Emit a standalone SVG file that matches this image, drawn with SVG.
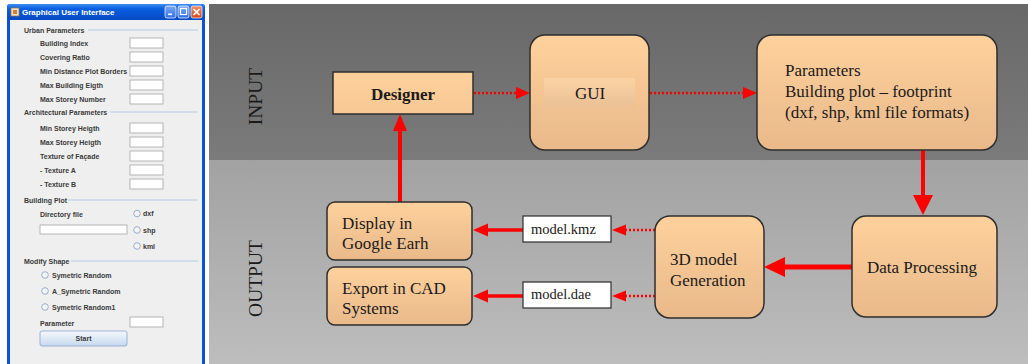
<svg xmlns="http://www.w3.org/2000/svg" width="1028" height="364" viewBox="0 0 1028 364">
<defs>
<linearGradient id="topBand" x1="0" y1="0" x2="0" y2="1"><stop offset="0" stop-color="#686868"/><stop offset="1" stop-color="#7b7b7b"/></linearGradient>
<linearGradient id="botBand" x1="0" y1="0" x2="0" y2="1"><stop offset="0" stop-color="#a2a2a2"/><stop offset="1" stop-color="#bdbdbd"/></linearGradient>
<linearGradient id="boxFill" x1="0" y1="0" x2="0" y2="1"><stop offset="0" stop-color="#fed19c"/><stop offset="1" stop-color="#e9b98a"/></linearGradient>
<linearGradient id="flatFill" x1="0" y1="0" x2="0" y2="1"><stop offset="0" stop-color="#fed19c"/><stop offset="1" stop-color="#f7c894"/></linearGradient>
<linearGradient id="guiHi" x1="0" y1="0" x2="0" y2="1"><stop offset="0" stop-color="#fbd4a6" stop-opacity="0.9"/><stop offset="1" stop-color="#e9c094" stop-opacity="0.9"/></linearGradient>
<linearGradient id="titleBar" x1="0" y1="0" x2="0" y2="1"><stop offset="0" stop-color="#3d8df5"/><stop offset="0.3" stop-color="#0a5fe0"/><stop offset="1" stop-color="#0749c4"/></linearGradient>
<linearGradient id="btnBlue" x1="0" y1="0" x2="0" y2="1"><stop offset="0" stop-color="#7eaaf8"/><stop offset="1" stop-color="#2f6fe6"/></linearGradient>
<linearGradient id="btnRed" x1="0" y1="0" x2="0" y2="1"><stop offset="0" stop-color="#f0906a"/><stop offset="1" stop-color="#d9461e"/></linearGradient>
<linearGradient id="startBtn" x1="0" y1="0" x2="0" y2="1"><stop offset="0" stop-color="#f6f9fd"/><stop offset="1" stop-color="#c6d8ee"/></linearGradient>
<style>
.lbl{font-family:"Liberation Sans",Arial,sans-serif;font-size:7px;font-weight:bold;fill:#3a3a3a}
.sep{stroke:#b8cce4;stroke-width:1.2}
.inp{fill:#ffffff;stroke:#a6a6a6;stroke-width:0.8}
.radio{fill:#f4f4f4;stroke:#8ea6c6;stroke-width:0.9}
.box{fill:url(#boxFill);stroke:#2e2e2e;stroke-width:1.5}
.txt{font-family:"Liberation Serif","Times New Roman",serif;font-size:17px;fill:#1a1a1a}
.side{font-family:"Liberation Serif","Times New Roman",serif;font-size:19.5px;fill:#1a1a1a}
.file{fill:#ffffff;stroke:#2e2e2e;stroke-width:1.2}
.ftxt{font-family:"Liberation Serif","Times New Roman",serif;font-size:14.5px;fill:#1a1a1a}
.dot{stroke:#ff0000;stroke-width:2.5;stroke-dasharray:2 2;fill:none}
.sol{stroke:#ff0000;fill:none}
.head{fill:#ff0000}
</style>
</defs>
<rect x="0" y="0" width="1028" height="364" fill="#ffffff"/>

<!-- Left: GUI window screenshot -->
<g id="gui-window">
<rect x="7" y="4" width="198" height="364" rx="3" fill="#0a53d6"/>
<rect x="7" y="4" width="198" height="16" rx="3" fill="url(#titleBar)"/>
<rect x="10" y="20" width="192" height="348" fill="#efefef"/>
<rect x="11" y="8" width="8" height="8" fill="#e9e2c8" stroke="#b07030" stroke-width="0.7"/>
<rect x="13" y="10" width="4" height="4" fill="#d08030"/>
<text x="22" y="15" font-family="Liberation Sans,Arial,sans-serif" font-size="8px" font-weight="bold" fill="#ffffff">Graphical User Interface</text>
<rect x="165" y="6" width="11" height="12" rx="2" fill="url(#btnBlue)" stroke="#ffffff" stroke-width="0.7"/>
<rect x="168" y="13.5" width="4" height="1.6" fill="#ffffff"/>
<rect x="178" y="6" width="11" height="12" rx="2" fill="url(#btnBlue)" stroke="#ffffff" stroke-width="0.7"/>
<rect x="180.5" y="8.5" width="6" height="6" fill="none" stroke="#ffffff" stroke-width="1.2"/>
<rect x="191" y="6" width="11" height="12" rx="2" fill="url(#btnRed)" stroke="#ffffff" stroke-width="0.7"/>
<path d="M193.5,9 L199.5,15 M199.5,9 L193.5,15" stroke="#ffffff" stroke-width="1.6"/>

<text class="lbl" x="24" y="32.5">Urban Parameters</text>
<line class="sep" x1="88" y1="30" x2="198" y2="30"/>
<text class="lbl" x="40" y="45.5">Building Index</text>
<rect class="inp" x="130" y="38" width="33" height="10"/>
<text class="lbl" x="40" y="59.5">Covering Ratio</text>
<rect class="inp" x="130" y="52" width="33" height="10"/>
<text class="lbl" x="40" y="73.5">Min Distance Plot Borders</text>
<rect class="inp" x="130" y="66" width="33" height="10"/>
<text class="lbl" x="40" y="87.5">Max Building Eigth</text>
<rect class="inp" x="130" y="80" width="33" height="10"/>
<text class="lbl" x="40" y="101.5">Max Storey Number</text>
<rect class="inp" x="130" y="94" width="33" height="10"/>

<text class="lbl" x="24" y="114.5">Architectural Parameters</text>
<line class="sep" x1="110" y1="112" x2="198" y2="112"/>
<text class="lbl" x="40" y="130.5">Min Storey Heigth</text>
<rect class="inp" x="130" y="123" width="33" height="10"/>
<text class="lbl" x="40" y="144.5">Max Storey Heigth</text>
<rect class="inp" x="130" y="137" width="33" height="10"/>
<text class="lbl" x="40" y="158.5">Texture of Façade</text>
<rect class="inp" x="130" y="151" width="33" height="10"/>
<text class="lbl" x="40" y="172.5">- Texture A</text>
<rect class="inp" x="130" y="165" width="33" height="10"/>
<text class="lbl" x="40" y="186.5">- Texture B</text>
<rect class="inp" x="130" y="179" width="33" height="10"/>

<text class="lbl" x="24" y="202.5">Building Plot</text>
<line class="sep" x1="68" y1="200" x2="198" y2="200"/>
<text class="lbl" x="40" y="216.5">Directory file</text>
<circle class="radio" cx="137" cy="213.5" r="3.3"/>
<text class="lbl" x="143" y="216">dxf</text>
<rect class="inp" x="40" y="225" width="87" height="9"/>
<circle class="radio" cx="137" cy="230" r="3.3"/>
<text class="lbl" x="143" y="232.5">shp</text>
<circle class="radio" cx="137" cy="246" r="3.3"/>
<text class="lbl" x="143" y="248.5">kml</text>

<text class="lbl" x="24" y="263.5">Modify Shape</text>
<line class="sep" x1="71" y1="261" x2="198" y2="261"/>
<circle class="radio" cx="45" cy="275" r="3.3"/>
<text class="lbl" x="52" y="277.5">Symetric Random</text>
<circle class="radio" cx="45" cy="291" r="3.3"/>
<text class="lbl" x="52" y="293.5">A_Symetric Random</text>
<circle class="radio" cx="45" cy="307" r="3.3"/>
<text class="lbl" x="52" y="309.5">Symetric Random1</text>
<text class="lbl" x="40" y="325.5">Parameter</text>
<rect class="inp" x="130" y="317" width="33" height="10"/>
<rect x="40" y="331" width="87" height="15" rx="2" fill="url(#startBtn)" stroke="#86a4cc" stroke-width="0.8"/>
<text class="lbl" x="83.5" y="341" text-anchor="middle">Start</text>
</g>

<!-- Right: bands -->
<g id="background">
<rect x="209" y="4" width="819" height="156" fill="url(#topBand)"/>
<rect x="209" y="160" width="819" height="204" fill="url(#botBand)"/>
<text class="side" transform="translate(262,96.5) rotate(-90)" text-anchor="middle">INPUT</text>
<text class="side" transform="translate(262,278.5) rotate(-90)" text-anchor="middle">OUTPUT</text>
</g>

<!-- Connectors -->
<g id="connectors">
<line class="dot" x1="474" y1="93" x2="516" y2="93"/>
<polygon class="head" points="516,87 530,93 516,99"/>
<line class="dot" x1="650" y1="93" x2="743" y2="93"/>
<polygon class="head" points="743,87 757,93 743,99"/>
<line class="sol" x1="923" y1="150" x2="923" y2="196" stroke-width="4"/>
<polygon class="head" points="913,195 933,195 923,215"/>
<line class="sol" x1="852" y1="267" x2="784" y2="267" stroke-width="5"/>
<polygon class="head" points="785,257 764,267 785,277"/>
<line class="dot" x1="655" y1="230" x2="625" y2="230"/>
<polygon class="head" points="626,224.5 612,230 626,235.5"/>
<line class="dot" x1="655" y1="296" x2="625" y2="296"/>
<polygon class="head" points="626,290.5 612,296 626,301.5"/>
<line class="sol" x1="523" y1="230" x2="486" y2="230" stroke-width="3.5"/>
<polygon class="head" points="488,223.5 473,230 488,236.5"/>
<line class="sol" x1="523" y1="296" x2="486" y2="296" stroke-width="3.5"/>
<polygon class="head" points="488,289.5 473,296 488,302.5"/>
<line class="sol" x1="400" y1="202" x2="400" y2="129" stroke-width="4"/>
<polygon class="head" points="393,131 400,114 407,131"/>
</g>

<!-- Nodes -->
<g id="designer">
<rect x="333" y="72" width="140" height="42" fill="url(#flatFill)" stroke="#2e2e2e" stroke-width="1.5"/>
<text class="txt" x="403" y="100" text-anchor="middle" font-weight="bold" font-size="19px">Designer</text>
</g>
<g id="gui">
<rect class="box" x="530" y="35" width="119" height="115" rx="15"/>
<rect x="544" y="78" width="91" height="29" fill="url(#guiHi)"/>
<text class="txt" x="590" y="99" text-anchor="middle" font-size="18px">GUI</text>
</g>
<g id="parameters">
<rect class="box" x="757" y="35" width="240" height="115" rx="15"/>
<text class="txt" x="785" y="76">Parameters</text>
<text class="txt" x="785" y="97">Building plot – footprint</text>
<text class="txt" x="785" y="118">(dxf, shp, kml file formats)</text>
</g>
<g id="data-processing">
<rect class="box" x="852" y="216" width="145" height="101" rx="14"/>
<text class="txt" x="922" y="273" text-anchor="middle">Data Processing</text>
</g>
<g id="model-generation">
<rect class="box" x="655" y="216" width="109" height="102" rx="15"/>
<text class="txt" x="670" y="265">3D model</text>
<text class="txt" x="670" y="286">Generation</text>
</g>
<g id="model-kmz">
<rect class="file" x="523" y="216" width="88" height="26"/>
<text class="ftxt" x="531" y="234">model.kmz</text>
</g>
<g id="model-dae">
<rect class="file" x="523" y="282" width="88" height="26"/>
<text class="ftxt" x="531" y="299">model.dae</text>
</g>
<g id="display">
<rect class="box" x="327" y="202" width="145" height="58" rx="8"/>
<text class="txt" x="342" y="229">Display in</text>
<text class="txt" x="342" y="249">Google Earh</text>
</g>
<g id="export">
<rect class="box" x="327" y="267" width="145" height="58" rx="8"/>
<text class="txt" x="342" y="294">Export in CAD</text>
<text class="txt" x="342" y="314">Systems</text>
</g>
</svg>
